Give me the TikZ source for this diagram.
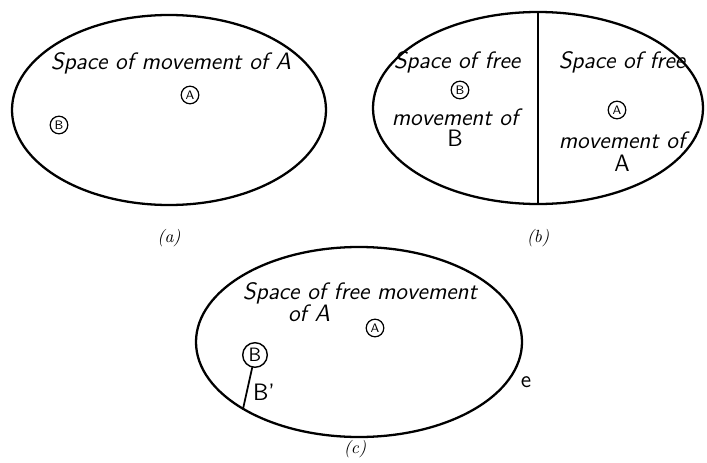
\documentclass[tikz,border=0pt]{standalone}
\begin{document}
\begin{tikzpicture}[x=0.02cm, y=-0.02cm, line cap=round,
    every node/.style={inner sep=1pt, font=\sffamily\itshape\fontsize{13.5}{14}\selectfont},
    obj/.style={draw, circle, line width=0.7pt, inner sep=0.5pt, minimum size=10pt, font=\sffamily\fontsize{7}{8}\selectfont},
    bigobj/.style={obj, minimum size=14pt, line width=0.8pt, font=\sffamily\fontsize{11}{12}\selectfont},
    word/.style={font=\sffamily\fontsize{13.5}{14}\selectfont},
    tag/.style={font=\itshape\fontsize{10}{11}\selectfont}]
    \useasboundingbox (0,0) rectangle (707,463);

    % 1. Hình (a)
    \draw[line width=1.3pt] (169,110) ellipse [x radius=157, y radius=95];
    \node (ta) at (171,63) {Space of movement of A};
    \node[obj] (Aa) at (190,95) {A};
    \node[obj] (Ba) at (59,125) {B};
    \node[tag] (la) at (169,238) {(a)};

    % 2. Hình (b)
    \draw[line width=1.3pt] (538,108) ellipse [x radius=165, y radius=96];
    \coordinate (Ptop) at (538,12);
    \coordinate (Pbot) at (538,204);
    \draw[line width=0.8pt] (Ptop) -- (Pbot);
    % nửa trái
    \node (tbl) at (457,62) {Space of free};
    \node[obj] (Bb) at (460,90) {B};
    \node (mbl) at (455,117) {movement of};
    \node[word] (nb) at (455,138) {B};
    % nửa phải
    \node (tbr) at (622,62) {Space of free};
    \node[obj] (Ab) at (617,110) {A};
    \node (mbr) at (622,140) {movement of};
    \node[word] (nbr) at (622,163) {A};
    \node[tag] (lb) at (538,238) {(b)};

    % 3. Hình (c)
    \draw[line width=1.3pt] (359,342) ellipse [x radius=163, y radius=95];
    \node (tc) at (360,293) {Space of free movement};
    \node (tc2) at (309,313) {of A};
    \node[obj] (Ac) at (375,328) {A};
    \node[bigobj] (Bc) at (255,355) {B};
    \coordinate (Bw) at (243,409);
    \draw[line width=1pt] (Bc) -- (Bw);
    \node[word] (Bp) at (264,392) {B'};
    \node[word] (e) at (526,382) {e};
    \node[tag] (lc) at (355,449) {(c)};
\end{tikzpicture}
\end{document}
